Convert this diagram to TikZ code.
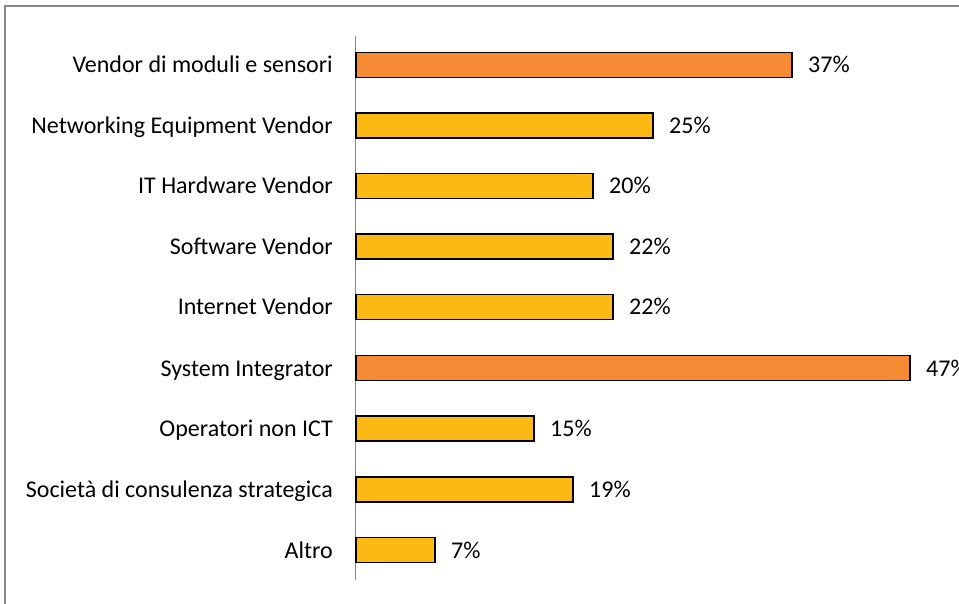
\documentclass[tikz,border=0pt]{standalone}
\usepackage{fontspec}
\setmainfont{Carlito}
\definecolor{barorange}{HTML}{F68B33}
\definecolor{baryellow}{HTML}{FDB913}
\definecolor{framegray}{HTML}{888888}
\begin{document}
\begin{tikzpicture}[x=1pt,y=-1pt,
  bar/.style={draw=black,line width=1.3pt},
  cat/.style={anchor=base east,font=\fontsize{24}{28}\selectfont,inner sep=0pt},
  val/.style={anchor=base west,font=\fontsize{24}{28}\selectfont,inner sep=0pt}]
\useasboundingbox (0,0) rectangle (959,604);
% chart frame
\draw[framegray,line width=1.5pt] (5,610) -- (5,6) -- (965,6);
% category axis
\coordinate (axtop) at (355.5,36);
\coordinate (axbot) at (355.5,580);
\draw[framegray,line width=1.5pt] (axtop) -- (axbot);
% bars: y-centre, bar end, value, colour, label
\foreach \yc/\xe/\v/\c/\lab [count=\i] in {
  65/792/37/barorange/Vendor di moduli e sensori,
  125.5/653/25/baryellow/Networking Equipment Vendor,
  186/593/20/baryellow/IT Hardware Vendor,
  246.5/613/22/baryellow/Software Vendor,
  307/613/22/baryellow/Internet Vendor,
  368/910/47/barorange/System Integrator,
  428.5/534/15/baryellow/Operatori non ICT,
  489.5/573/19/baryellow/Società di consulenza strategica,
  550/435/7/baryellow/Altro}{
  \draw[bar,fill=\c] (356,\yc-12.5) rectangle (\xe,\yc+12.5);
  \coordinate (e\i) at (\xe,\yc+8);
  \node[cat] (c\i) at (333,\yc+8) {\lab};
  \node[val] (v\i) at ([xshift=16pt]e\i) {\v\%};
}
\end{tikzpicture}
\end{document}
